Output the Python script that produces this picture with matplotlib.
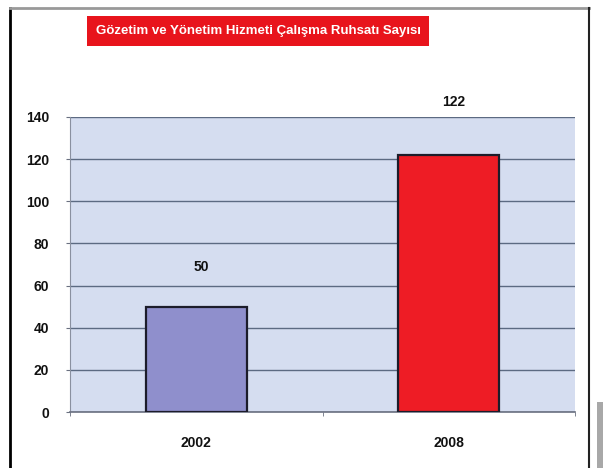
"""
Gozetim ve Yonetim Hizmeti Calisma Ruhsati Sayisi - bar chart
"""

import matplotlib.pyplot as plt
from matplotlib.lines import Line2D
from matplotlib.patches import Rectangle

plt.rcParams['font.family'] = ['Liberation Sans', 'DejaVu Sans']

# data
years = ['2002', '2008']
counts = [50, 122]
bar_colors = ['#8f8fcc', '#ee1c25']
label_offsets = [19, 25]  # value label gap above each bar (data units)
title = 'Gözetim ve Yönetim Hizmeti Çalışma Ruhsatı Sayısı'
y_ticks = [0, 20, 40, 60, 80, 100, 120, 140]

fig = plt.figure(figsize=(6.03, 4.68), dpi=100)
W, H = 603, 468

# plot area in pixel coords of the original picture
ax = fig.add_axes([70 / W, 1 - 412 / H, 505 / W, 295 / H])
ax.set_facecolor('#d5ddf0')

x = list(range(len(years)))
ax.bar(x, counts, width=0.4, color=bar_colors, edgecolor='#1c1c2a',
       linewidth=1.6, zorder=3)

for xi, v, off in zip(x, counts, label_offsets):
    ax.text(xi + 0.02, v + off, str(v), ha='center', va='center',
            fontsize=10, fontweight='bold', color='#111111', clip_on=False)

ax.set_xlim(-0.5, 1.5)
ax.set_ylim(0, 140)
ax.set_yticks(y_ticks)
ax.set_yticklabels([str(t) for t in y_ticks], fontsize=10, fontweight='bold',
                   color='#111111')
ax.set_xticks(x)
ax.set_xticklabels(years, fontsize=10, fontweight='bold', color='#111111')
ax.set_xticks([-0.5, 0.5, 1.5], minor=True)
ax.tick_params(axis='x', which='major', length=0, pad=17)
ax.tick_params(axis='x', which='minor', length=3, color='#6a7080')
ax.tick_params(axis='y', length=3, color='#6a7080', pad=12)

ax.yaxis.grid(True, color='#5c6a82', linewidth=1.0, zorder=1)
ax.set_axisbelow(True)
for side in ['top', 'right']:
    ax.spines[side].set_visible(False)
ax.spines['left'].set_color('#8a90a0')
ax.spines['bottom'].set_color('#6a7080')
ax.spines['bottom'].set_linewidth(1.2)

# title in red box
fig.text(258 / W, 1 - 31 / H, title, ha='center', va='center',
         fontsize=9.5, fontweight='bold', color='white',
         bbox=dict(boxstyle='square,pad=0.65', facecolor='#e8141c',
                   edgecolor='none'))

# outer frame
fig.add_artist(Line2D([10 / W, 10 / W], [0, 1 - 8 / H], color='black',
                      linewidth=2, transform=fig.transFigure))
fig.add_artist(Line2D([10 / W, 589 / W], [1 - 8 / H, 1 - 8 / H],
                      color='#999999', linewidth=2, transform=fig.transFigure))
fig.add_artist(Line2D([589 / W, 589 / W], [0, 1 - 8 / H], color='#222222',
                      linewidth=1.5, transform=fig.transFigure))
fig.add_artist(Rectangle((597 / W, 0), 6 / W, 66 / H, facecolor='#a8a8a8',
                         edgecolor='none', transform=fig.transFigure))

fig.savefig('out.png', dpi=100)
